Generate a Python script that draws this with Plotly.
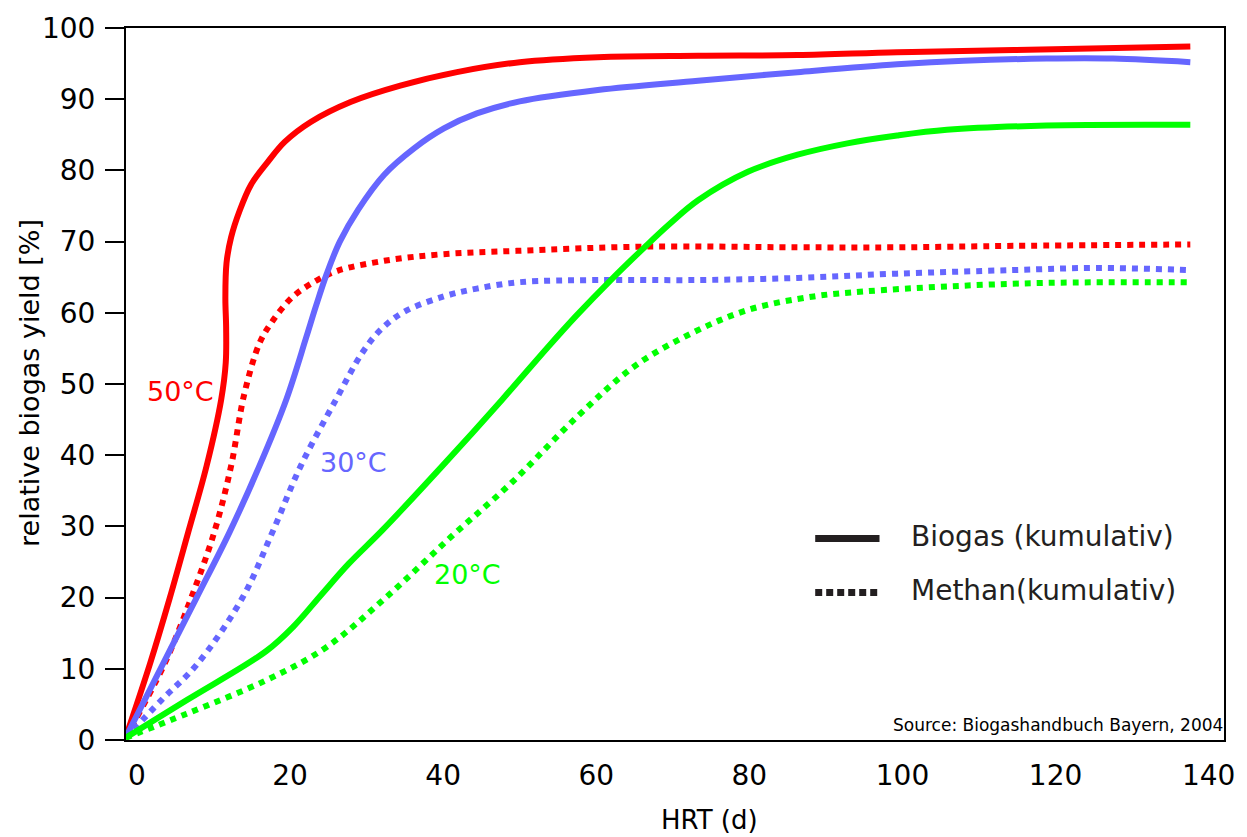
import plotly.graph_objects as go

# ---- data ----
hrt_50_biogas = [-1.5, 1.7, 4.3, 6.7, 9.1, 11.0, 11.6, 11.65, 11.55, 11.7, 12.3, 13.4, 14.9, 17.1, 19.3, 22.7, 27.9, 34.4, 41.8, 50.0, 60.2, 73.3, 86.3, 99.3, 114.5, 137.6]
yld_50_biogas = [0.3, 10.7, 20.0, 29.2, 38.5, 47.8, 53.0, 58.0, 62.0, 67.0, 70.6, 74.3, 78.0, 81.2, 84.0, 86.8, 89.6, 91.9, 93.8, 95.2, 95.9, 96.1, 96.2, 96.6, 96.9, 97.4]

hrt_50_methan = [-1.5, 3.6, 7.1, 10.1, 12.3, 14.0, 16.0, 17.5, 20.3, 23.4, 26.2, 32.3, 39.6, 49.6, 66.7, 86.3, 99.3, 114.5, 137.6]
yld_50_methan = [0.3, 10.7, 20.0, 29.2, 38.5, 48.5, 55.7, 58.5, 62.2, 64.5, 65.9, 67.3, 68.2, 68.7, 69.3, 69.2, 69.2, 69.4, 69.6]

hrt_30_biogas = [-1.5, 3.4, 7.8, 12.1, 16.0, 19.5, 22.1, 23.4, 24.8, 26.5, 28.9, 32.3, 36.2, 40.1, 44.4, 50.0, 60.2, 73.3, 86.3, 99.3, 108.0, 118.8, 127.5, 137.6]
yld_30_biogas = [0.3, 10.7, 20.0, 29.2, 38.5, 47.8, 56.5, 61.0, 65.5, 70.0, 74.5, 79.4, 83.1, 85.9, 88.0, 89.7, 91.3, 92.6, 93.8, 94.9, 95.4, 95.7, 95.7, 95.2]

hrt_30_methan = [-1.5, 3.2, 7.9, 13.8, 17.7, 21.4, 26.0, 29.5, 32.0, 35.0, 40.1, 44.4, 50.0, 60.2, 73.3, 86.3, 99.3, 114.5, 125.3, 137.6]
yld_30_methan = [0.3, 5.6, 10.7, 20.0, 29.2, 38.5, 47.8, 54.5, 57.8, 60.2, 62.3, 63.4, 64.3, 64.6, 64.6, 64.9, 65.5, 66.0, 66.3, 66.0]

hrt_20_biogas = [-1.5, 6.5, 16.9, 20.5, 24.0, 27.7, 32.0, 39.9, 47.7, 53.7, 57.4, 61.9, 66.3, 69.5, 73.3, 79.8, 86.3, 92.8, 99.3, 105.8, 118.8, 137.6]
yld_20_biogas = [0.3, 5.6, 12.5, 16.0, 20.3, 24.8, 29.4, 38.5, 47.8, 55.2, 59.6, 64.6, 69.2, 72.4, 75.8, 79.8, 82.2, 83.8, 84.9, 85.7, 86.3, 86.4]

hrt_20_methan = [-1.5, 6.5, 16.9, 24.7, 32.5, 41.0, 49.0, 57.6, 65.0, 72.4, 79.8, 88.4, 95.0, 105.8, 118.8, 137.6]
yld_20_methan = [0.3, 3.7, 8.4, 13.0, 20.0, 28.5, 36.2, 45.5, 52.5, 57.1, 60.4, 62.3, 63.0, 63.7, 64.2, 64.3]

x_ticks = [0, 20, 40, 60, 80, 100, 120, 140]
y_ticks = [0, 10, 20, 30, 40, 50, 60, 70, 80, 90, 100]

temp_labels = ["50°C", "30°C", "20°C"]
temp_label_x = [5.7, 28.3, 43.2]
temp_label_y = [49.0, 39.0, 23.2]

legend_labels = ["Biogas (kumulativ)", "Methan(kumulativ)"]

RED = "#ff0000"
BLUE = "#6666ff"
GREEN = "#00ff00"
INK = "#231f20"
FONT = "DejaVu Sans"
LW = 6

fig = go.Figure()

series = [
    (hrt_50_biogas, yld_50_biogas, RED, "solid"),
    (hrt_50_methan, yld_50_methan, RED, "dot"),
    (hrt_30_biogas, yld_30_biogas, BLUE, "solid"),
    (hrt_30_methan, yld_30_methan, BLUE, "dot"),
    (hrt_20_biogas, yld_20_biogas, GREEN, "solid"),
    (hrt_20_methan, yld_20_methan, GREEN, "dot"),
]
for xs, ys, col, dash in series:
    fig.add_trace(go.Scatter(
        x=xs, y=ys, mode="lines",
        line=dict(color=col, width=LW, dash=dash, shape="spline", smoothing=1.0),
        showlegend=False, hoverinfo="skip",
    ))

annotations = []
for txt, tx, ty, col in zip(temp_labels, temp_label_x, temp_label_y, [RED, BLUE, GREEN]):
    annotations.append(dict(x=tx, y=ty, xref="x", yref="y", text=txt, showarrow=False,
                            font=dict(family=FONT, size=27, color=col),
                            xanchor="center", yanchor="middle"))

# legend (drawn manually)
leg_x0, leg_x1, leg_text_x = 88.6, 97.0, 100.9
leg_y = [28.3, 20.7]
shapes = [
    dict(type="line", xref="x", yref="y", x0=leg_x0, x1=leg_x1, y0=leg_y[0], y1=leg_y[0],
         line=dict(color=INK, width=7)),
    dict(type="line", xref="x", yref="y", x0=leg_x0, x1=leg_x1, y0=leg_y[1], y1=leg_y[1],
         line=dict(color=INK, width=7, dash="7px,4px")),
]
for lab, ly in zip(legend_labels, leg_y):
    annotations.append(dict(x=leg_text_x, y=ly + 0.3, xref="x", yref="y", text=lab, showarrow=False,
                            font=dict(family=FONT, size=28, color=INK),
                            xanchor="left", yanchor="middle"))

annotations.append(dict(x=141.1, y=2.1, xref="x", yref="y", text="Source: Biogashandbuch Bayern, 2004",
                        showarrow=False, font=dict(family=FONT, size=17, color="#000000"),
                        xanchor="right", yanchor="middle", xshift=8))

# axis titles
annotations.append(dict(x=-0.088, y=0.502, xref="paper", yref="paper", text="relative biogas yield [%]",
                        textangle=-90, showarrow=False, font=dict(family=FONT, size=27, color="#000000"),
                        xanchor="center", yanchor="middle"))
annotations.append(dict(x=0.531, y=-0.112, xref="paper", yref="paper", text="HRT (d)",
                        showarrow=False, font=dict(family=FONT, size=26, color="#000000"),
                        xanchor="center", yanchor="middle"))

fig.update_layout(
    width=1247, height=837,
    margin=dict(l=126, r=18, t=23, b=97),
    paper_bgcolor="white", plot_bgcolor="white",
    showlegend=False,
    annotations=annotations,
    shapes=shapes,
    font=dict(family=FONT, color="#000000"),
)
fig.update_xaxes(
    range=[-1.43, 142.0], tickvals=x_ticks, ticktext=[str(v) for v in x_ticks],
    showgrid=False, zeroline=False, showline=True, mirror=True,
    linecolor="#000000", linewidth=2, ticks="",
    tickfont=dict(family=FONT, size=28, color="#000000"), ticklabelstandoff=9,
)
fig.update_yaxes(
    range=[0, 100], tickvals=y_ticks, ticktext=[str(v) for v in y_ticks],
    showgrid=False, zeroline=False, showline=True, mirror=True,
    linecolor="#000000", linewidth=2, ticks="outside", ticklen=19, tickwidth=2, tickcolor="#000000",
    tickfont=dict(family=FONT, size=28, color="#000000"), ticklabelstandoff=4,
)

fig.write_html("out.html")
